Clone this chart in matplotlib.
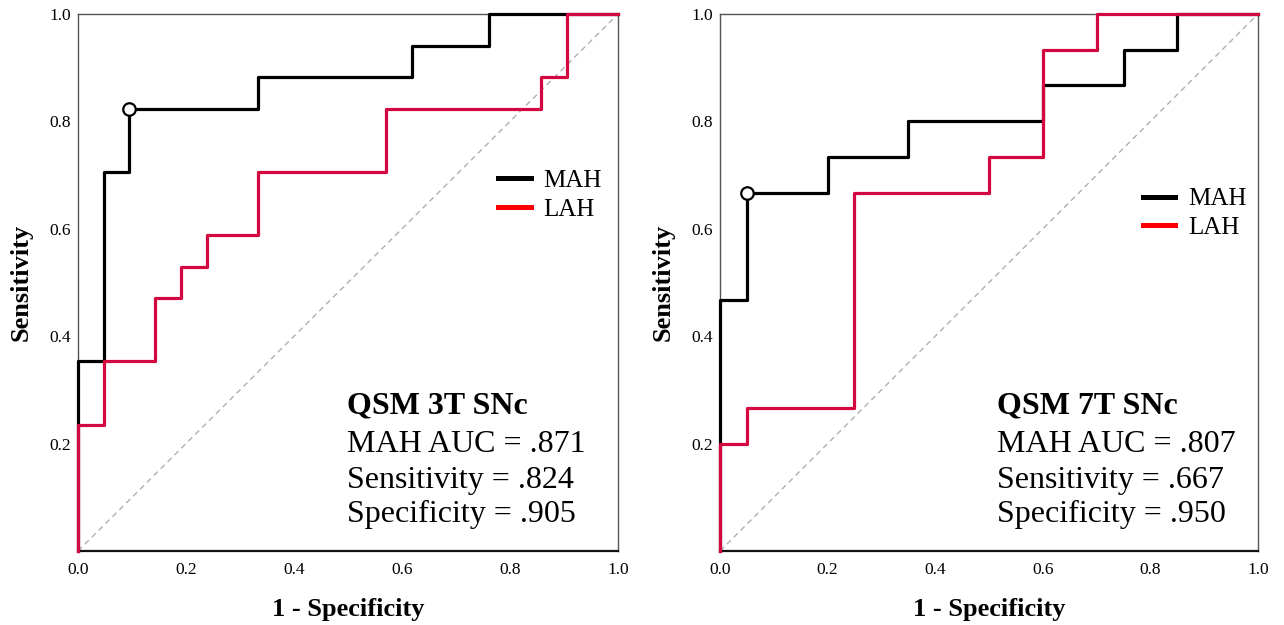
import matplotlib
matplotlib.use("Agg")
import matplotlib.pyplot as plt
from matplotlib.lines import Line2D

plt.rcParams["font.family"] = ["Liberation Serif", "DejaVu Serif"]

# ROC vertices (1 - specificity, sensitivity), drawn as post-steps
mah_3t_fpr = [0, 0, 0.048, 0.095, 0.333, 0.619, 0.762, 1.0]
mah_3t_tpr = [0, 0.353, 0.706, 0.824, 0.882, 0.941, 1.0, 1.0]
lah_3t_fpr = [0, 0, 0.048, 0.143, 0.190, 0.238, 0.333, 0.571, 0.857, 0.905, 1.0]
lah_3t_tpr = [0, 0.235, 0.353, 0.471, 0.529, 0.588, 0.706, 0.824, 0.882, 1.0, 1.0]

mah_7t_fpr = [0, 0, 0.05, 0.2, 0.35, 0.6, 0.75, 0.85, 1.0]
mah_7t_tpr = [0, 0.467, 0.667, 0.733, 0.8, 0.867, 0.933, 1.0, 1.0]
lah_7t_fpr = [0, 0, 0.05, 0.25, 0.5, 0.6, 0.7, 1.0]
lah_7t_tpr = [0, 0.2, 0.267, 0.667, 0.733, 0.933, 1.0, 1.0]

cutoff_3t = (0.095, 0.824)
cutoff_7t = (0.05, 0.667)

titles = ["QSM 3T SNc", "QSM 7T SNc"]
stats_3t = ["MAH AUC = .871", "Sensitivity = .824", "Specificity = .905"]
stats_7t = ["MAH AUC = .807", "Sensitivity = .667", "Specificity = .950"]

x_ticks = [0.0, 0.2, 0.4, 0.6, 0.8, 1.0]
y_ticks = [0.2, 0.4, 0.6, 0.8, 1.0]

BLACK = "#000000"
RED = "#d2083e"

fig = plt.figure(figsize=(12.84, 6.25), dpi=100)
ax_l = fig.add_axes([78 / 1284, 74 / 625, 540 / 1284, 537 / 625])
ax_r = fig.add_axes([720 / 1284, 74 / 625, 538 / 1284, 537 / 625])

panels = [
    (ax_l, mah_3t_fpr, mah_3t_tpr, lah_3t_fpr, lah_3t_tpr, cutoff_3t, titles[0], stats_3t,
     (0.778, 0.710), 0.498),
    (ax_r, mah_7t_fpr, mah_7t_tpr, lah_7t_fpr, lah_7t_tpr, cutoff_7t, titles[1], stats_7t,
     (0.786, 0.676), 0.515),
]

for ax, mfpr, mtpr, lfpr, ltpr, cut, title, stats, leg_xy, text_x in panels:
    ax.plot([0, 1], [0, 1], color="#b0b0b0", lw=1.0, dashes=(4, 3), zorder=1)
    ax.plot(mfpr, mtpr, drawstyle="steps-post", color=BLACK, lw=2.3, clip_on=False, zorder=3)
    ax.plot(lfpr, ltpr, drawstyle="steps-post", color=RED, lw=2.3, clip_on=False, zorder=4)
    ax.plot([cut[0]], [cut[1]], "o", ms=9, mfc="white", mec=BLACK, mew=1.6,
            clip_on=False, zorder=5)

    ax.set_xlim(0, 1)
    ax.set_ylim(0, 1)
    ax.set_xticks(x_ticks)
    ax.set_xticklabels([f"{t:.1f}" for t in x_ticks])
    ax.set_yticks(y_ticks)
    ax.set_yticklabels([f"{t:.1f}" for t in y_ticks])
    ax.tick_params(axis="x", length=0, pad=8, labelsize=12.5)
    ax.tick_params(axis="y", length=0, pad=5, labelsize=12.5)
    for side in ["top", "right", "left"]:
        ax.spines[side].set_color("#555555")
        ax.spines[side].set_linewidth(1.0)
    ax.spines["bottom"].set_color("#111111")
    ax.spines["bottom"].set_linewidth(1.6)

    ax.set_xlabel("1 - Specificity", fontsize=19, fontweight="bold", labelpad=14)
    ax.set_ylabel("Sensitivity", fontsize=19, fontweight="bold", labelpad=12)

    handles = [Line2D([0], [0], color="black", lw=3.6),
               Line2D([0], [0], color="#ff0000", lw=3.6)]
    ax.legend(handles, ["MAH", "LAH"], loc="upper left", bbox_to_anchor=leg_xy,
              frameon=False, fontsize=18, borderpad=0, borderaxespad=0,
              handlelength=1.3, handletextpad=0.5, labelspacing=0.25)

    ax.text(text_x, 0.257, title, transform=ax.transAxes, fontsize=23,
            fontweight="bold", va="baseline", ha="left")
    for i, s in enumerate(stats):
        ax.text(text_x, [0.184, 0.117, 0.054][i], s, transform=ax.transAxes,
                fontsize=23, va="baseline", ha="left")

fig.savefig("out.png", dpi=100)
